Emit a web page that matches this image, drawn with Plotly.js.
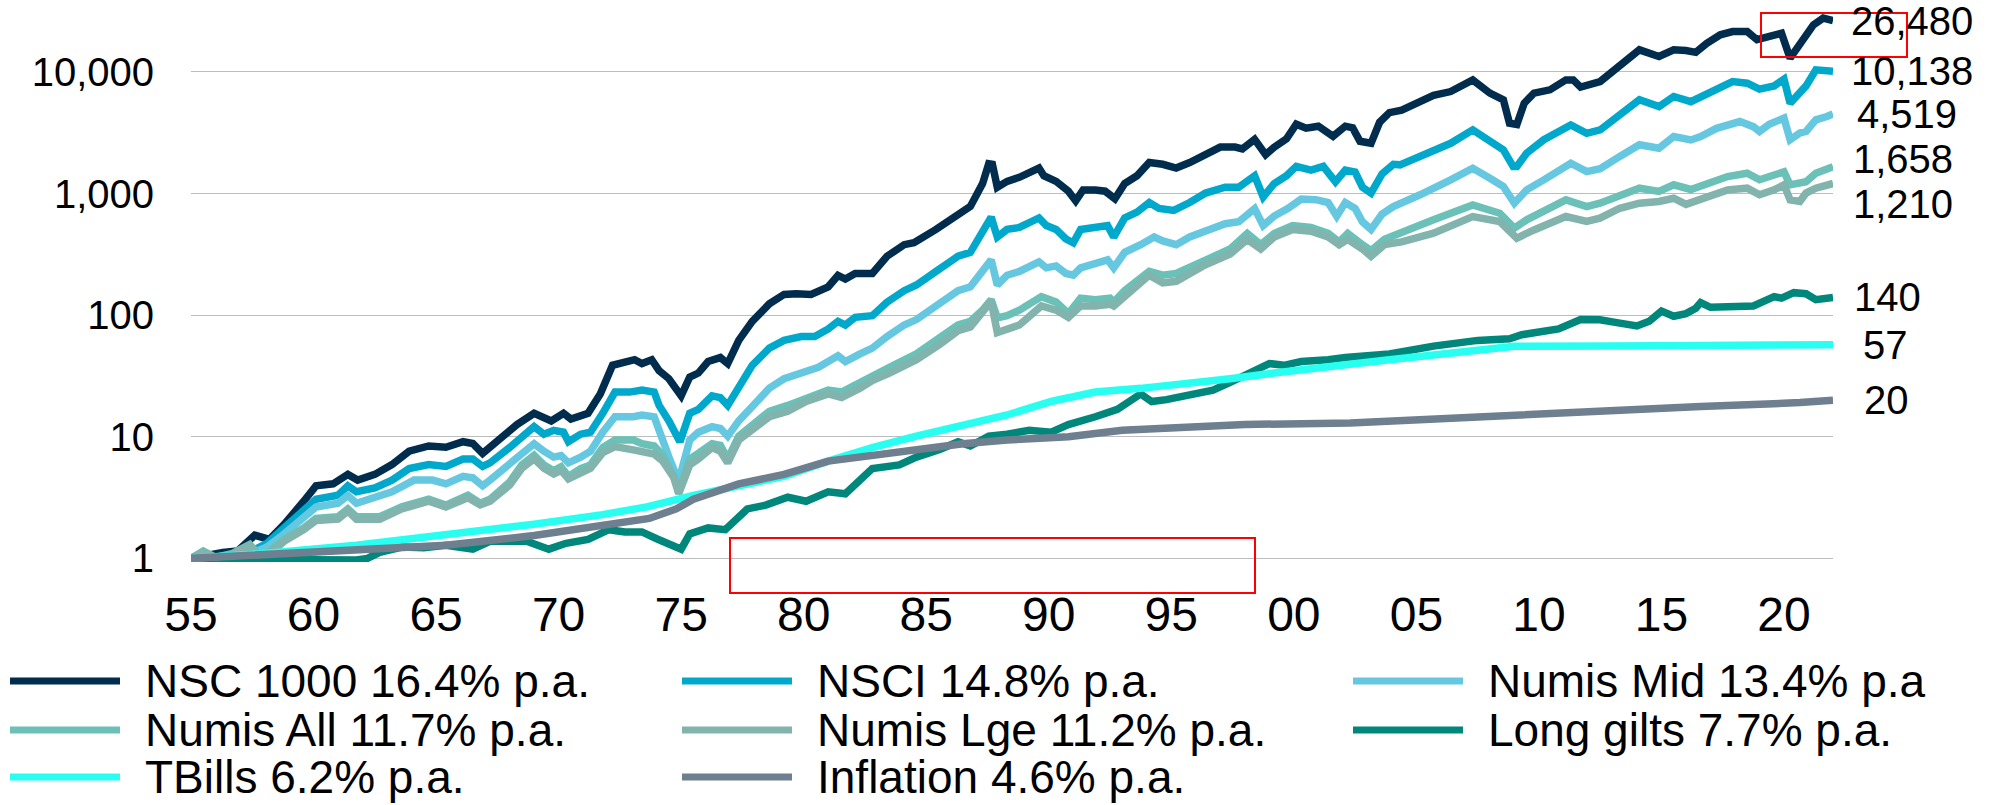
<!DOCTYPE html>
<html>
<head>
<meta charset="utf-8">
<script src="https://cdn.plot.ly/plotly-3.0.1.min.js"></script>
<style>
html,body{margin:0;padding:0;background:#ffffff;}
#chart{width:1998px;height:805px;}
</style>
</head>
<body>
<div id="chart"></div>
<script>
// ---------------- DATA ----------------
const seriesNames = ["NSC 1000 16.4% p.a.", "NSCI 14.8% p.a.", "Numis Mid 13.4% p.a",
  "Numis All 11.7% p.a.", "Numis Lge 11.2% p.a.", "Long gilts 7.7% p.a.",
  "TBills 6.2% p.a.", "Inflation 4.6% p.a."];

const xTickYears = [1955,1960,1965,1970,1975,1980,1985,1990,1995,2000,2005,2010,2015,2020];
const xTickLabels = ["55","60","65","70","75","80","85","90","95","00","05","10","15","20"];
const yTickValues = [1,10,100,1000,10000];
const yTickLabels = ["1","10","100","1,000","10,000"];

const nsc1000Years = [1955.0,1955.5,1956.3,1956.9,1957.6,1958.2,1958.8,1959.6,1960.1,1960.8,1961.4,1961.8,1962.5,1963.2,1963.9,1964.7,1965.4,1966.1,1966.5,1966.9,1967.2,1967.9,1968.3,1969.0,1969.7,1970.2,1970.5,1971.2,1971.7,1972.2,1972.7,1973.1,1973.4,1973.8,1974.1,1974.5,1975.0,1975.35,1975.7,1976.1,1976.6,1976.9,1977.35,1977.9,1978.6,1979.2,1979.7,1980.3,1981.0,1981.4,1981.7,1982.1,1982.8,1983.4,1984.1,1984.5,1985.4,1986.1,1986.8,1987.3,1987.55,1987.7,1987.9,1988.3,1988.8,1989.6,1989.8,1990.3,1990.8,1991.1,1991.4,1991.9,1992.3,1992.7,1993.1,1993.6,1994.1,1994.65,1995.2,1995.75,1996.5,1997.0,1997.6,1997.9,1998.4,1998.85,1999.2,1999.7,2000.1,2000.5,2001.0,2001.6,2002.1,2002.4,2002.7,2003.15,2003.5,2003.9,2004.4,2005.15,2005.7,2006.4,2007.3,2008.0,2008.55,2008.8,2009.1,2009.4,2009.8,2010.45,2011.1,2011.4,2011.7,2012.5,2013.3,2014.1,2014.9,2015.5,2016.0,2016.4,2016.85,2017.4,2017.9,2018.5,2018.9,2019.4,2019.9,2020.25,2020.65,2020.9,2021.2,2021.6,2022.0];
const nsc1000Values = [1.0,1.05,1.12,1.15,1.55,1.43,1.9,2.95,3.95,4.1,4.9,4.4,4.9,5.9,7.6,8.4,8.2,9.1,8.8,7.3,8.2,10.5,12.6,15.6,13.5,15.6,14.0,15.6,22.5,38.7,41.7,43,40,43,35,30,21.7,31,33.4,41.6,44.8,40,62,89,124,148,150,148,171,212,198,220,220,305,380,395,507,630,784,1210,1760,1740,1127,1260,1360,1620,1400,1260,1046,870,1070,1070,1046,907,1210,1400,1800,1740,1620,1800,2160,2410,2410,2330,2790,2090,2410,2820,3720,3450,3580,2960,3580,3470,2690,2590,3860,4630,4850,5720,6410,6900,8600,6690,5890,3790,3700,5530,6690,7130,8600,8600,7500,8340,11090,15200,13400,15200,15000,14500,17200,20200,21500,21500,18400,19700,20800,12970,17200,19700,24400,27700,26480];

const nsciYears = [1955.0,1956.0,1957.0,1957.5,1958.1,1958.8,1959.6,1960.1,1961.0,1961.4,1961.75,1962.5,1963.2,1963.9,1964.7,1965.4,1966.1,1966.5,1966.9,1967.2,1968.0,1968.6,1969.0,1969.4,1969.8,1970.2,1970.4,1970.9,1971.3,1971.8,1972.3,1972.9,1973.4,1973.9,1974.1,1974.5,1974.95,1975.35,1975.7,1976.26,1976.6,1976.9,1977.35,1977.9,1978.6,1979.2,1979.9,1980.45,1981.0,1981.4,1981.7,1982.1,1982.8,1983.4,1984.1,1984.6,1985.4,1986.3,1986.8,1987.3,1987.65,1987.9,1988.3,1988.8,1989.6,1989.9,1990.3,1990.7,1991.0,1991.3,1991.9,1992.4,1992.65,1993.1,1993.6,1994.1,1994.5,1995.1,1995.75,1996.4,1997.2,1997.75,1998.4,1998.75,1999.2,1999.7,2000.1,2000.7,2001.2,2001.7,2002.1,2002.5,2002.8,2003.15,2003.6,2004.06,2004.33,2005.15,2006.4,2007.3,2008.0,2008.55,2008.95,2009.1,2009.5,2010.2,2011.3,2011.95,2012.5,2013.3,2014.1,2014.9,2015.5,2016.2,2016.6,2017.25,2017.9,2018.5,2019.0,2019.6,2020.0,2020.25,2020.65,2020.9,2021.3,2021.75,2022.0];
const nsciValues = [1.0,1.02,1.05,1.15,1.33,1.78,2.46,3.06,3.3,3.95,3.53,3.8,4.4,5.47,5.9,5.7,6.55,6.55,5.7,6.1,8.15,10.1,12.1,10.5,11.3,10.9,9.1,10.5,10.9,15.6,23.3,23.3,24.2,23.3,18.1,13.5,9.1,15.6,16.8,21.7,21,18.1,25.1,38.7,53.6,62,66.7,66.7,77,89,83,96,99,128,159,177,229,305,328,507,640,439,507,526,630,545,507,423,394,507,526,545,439,630,703,843,755,727,843,1010,1127,1127,1400,938,1210,1400,1675,1560,1675,1250,1560,1500,1127,1010,1450,1740,1722,2020,2590,3340,2680,2290,1667,1667,2150,2770,3670,3130,3340,4440,5900,5200,6280,5700,6280,7350,8340,8090,7230,7680,8720,5530,6680,7680,10400,10100,10138];

const numisMidYears = [1955.0,1956.0,1957.0,1957.5,1958.1,1958.8,1959.6,1960.1,1961.0,1961.4,1961.75,1962.5,1963.2,1964.1,1964.85,1965.4,1966.1,1966.5,1966.9,1967.2,1968.0,1968.6,1969.0,1969.4,1969.8,1970.1,1970.4,1970.9,1971.3,1971.8,1972.3,1973.05,1973.4,1973.9,1974.1,1974.5,1974.9,1975.35,1975.7,1976.26,1976.6,1976.9,1977.35,1978.1,1978.6,1979.2,1979.9,1980.6,1981.4,1981.7,1982.3,1982.8,1983.4,1984.1,1984.6,1985.4,1986.3,1986.8,1987.3,1987.65,1987.9,1988.3,1988.8,1989.6,1989.9,1990.3,1990.7,1991.0,1991.3,1991.9,1992.4,1992.65,1993.1,1993.75,1994.3,1994.65,1995.2,1995.75,1996.5,1997.2,1997.75,1998.4,1998.75,1999.2,1999.75,2000.3,2000.9,2001.4,2001.75,2002.1,2002.5,2002.8,2003.15,2003.6,2004.06,2004.33,2005.15,2006.4,2007.3,2008.0,2008.55,2009.0,2009.5,2010.2,2011.3,2011.95,2012.5,2013.3,2014.1,2014.9,2015.5,2016.2,2016.6,2017.25,2018.2,2018.75,2019.0,2019.4,2020.0,2020.25,2020.65,2020.9,2021.3,2021.75,2022.0];
const numisMidValues = [1.0,1.0,1.03,1.1,1.24,1.59,2.21,2.64,2.84,3.29,2.84,3.18,3.53,4.4,4.4,4.1,4.72,4.6,3.95,4.4,5.87,7.6,8.77,7.6,6.8,7.0,6.1,6.8,7.6,10.9,14.6,14.6,15.1,14.6,10.9,6.8,4.3,9.4,10.9,12.1,11.7,10.1,13.5,19.5,25.1,30,33.4,37.3,46.3,41.6,48,53.6,66.7,83,92,119,159,171,229,285,177,213,229,274,245,254,220,213,245,264,285,245,329,380,439,408,380,439,507,565,586,753,545,654,753,900,890,842,650,842,753,586,507,679,782,834,977,1295,1615,1337,1143,834,1072,1295,1775,1515,1600,2020,2520,2360,2940,2760,2940,3440,3910,3550,3240,3720,4170,2770,3150,3240,4040,4300,4519];

const numisAllYears = [1955.0,1955.5,1956.0,1956.7,1957.4,1957.8,1958.1,1958.8,1959.6,1960.1,1961.0,1961.4,1961.75,1962.7,1963.6,1964.7,1965.4,1966.3,1966.8,1967.2,1968.0,1968.5,1969.0,1969.4,1969.8,1970.1,1970.4,1970.9,1971.3,1971.8,1972.3,1973.05,1973.4,1973.9,1974.25,1974.7,1974.9,1975.35,1975.7,1976.26,1976.6,1976.9,1977.35,1978.1,1978.6,1979.35,1980.1,1981.0,1981.55,1982.3,1982.8,1983.5,1984.6,1985.55,1986.3,1986.8,1987.3,1987.65,1987.9,1988.3,1988.8,1989.7,1990.3,1990.8,1991.3,1991.9,1992.5,1992.65,1993.1,1994.1,1994.65,1995.2,1996.3,1997.4,1998.1,1998.65,1999.2,1999.95,2000.7,2001.4,2001.85,2002.2,2002.8,2003.15,2003.7,2004.4,2005.7,2007.3,2008.4,2009.0,2009.5,2011.1,2011.95,2012.49,2013.3,2014.1,2014.9,2015.5,2016.2,2016.85,2017.7,2018.5,2019.0,2019.6,2020.0,2020.25,2020.65,2020.9,2021.3,2022.0];
const numisAllValues = [1.0,1.15,1.02,1.1,1.3,1.05,1.1,1.43,1.78,2.13,2.2,2.55,2.2,2.2,2.65,3.06,2.74,3.3,2.84,3.06,4.24,5.87,7.05,5.87,5.26,5.66,4.72,5.46,5.87,8.15,9.4,9.4,8.77,8.4,7.05,4.72,3.5,6.55,7.3,8.77,8.5,6.55,10.1,13.5,16.2,18.1,21,24.2,23.3,28,32.3,37.3,48,64,83,89,110,134,95,99,110,142,128,103,138,134,138,128,159,229,213,220,282,350,470,380,470,545,526,470,400,470,380,340,420,472,608,807,689,519,608,887,782,834,977,1107,1040,1180,1080,1210,1380,1470,1300,1420,1510,1180,1250,1250,1470,1658];

const numisLgeYears = [1955.0,1955.5,1956.0,1956.7,1957.4,1957.8,1958.1,1958.8,1959.6,1960.1,1961.0,1961.4,1961.75,1962.7,1963.6,1964.7,1965.4,1966.3,1966.8,1967.2,1968.0,1968.5,1969.0,1969.4,1969.8,1970.1,1970.4,1970.9,1971.3,1971.8,1972.3,1973.05,1973.4,1973.9,1974.25,1974.7,1974.9,1975.35,1975.7,1976.26,1976.6,1976.9,1977.35,1978.1,1978.6,1979.35,1980.1,1981.0,1981.55,1982.3,1982.8,1983.5,1984.6,1985.55,1986.3,1986.8,1987.3,1987.65,1987.9,1988.3,1988.8,1989.7,1990.3,1990.8,1991.3,1991.9,1992.5,1992.65,1993.1,1994.1,1994.65,1995.2,1996.3,1997.4,1998.1,1998.65,1999.2,1999.95,2000.7,2001.4,2001.85,2002.2,2002.8,2003.15,2003.7,2004.4,2005.7,2007.3,2008.4,2009.1,2009.8,2011.1,2011.95,2012.49,2013.3,2014.1,2014.9,2015.5,2016.0,2016.85,2017.7,2018.5,2019.0,2019.6,2020.0,2020.25,2020.65,2020.9,2021.3,2022.0];
const numisLgeValues = [1.0,1.12,1.0,1.08,1.28,1.0,1.05,1.38,1.72,2.05,2.1,2.45,2.1,2.1,2.55,2.95,2.65,3.15,2.75,2.95,4.0,5.5,6.6,5.5,4.95,5.3,4.5,5.1,5.5,7.4,8.3,7.8,7.6,7.2,6.3,4.6,3.4,5.87,6.55,8.15,7.6,6.1,9.4,12.1,14.6,16.2,19.5,22.5,21,25,29,33.4,43,57.5,74.5,80,105,130,72,77,83,119,110,96,119,119,123,119,142,213,184,190,254,318,420,350,439,507,490,439,380,420,350,305,380,400,472,647,589,430,502,647,589,627,757,834,860,915,815,946,1072,1107,977,1072,1180,887,860,1010,1107,1210];

const longGiltsYears = [1955.0,1956.0,1957.0,1958.0,1959.0,1960.0,1961.0,1961.75,1962.2,1962.7,1963.6,1964.5,1965.4,1966.5,1967.2,1968.7,1969.6,1970.3,1971.2,1972.05,1972.7,1973.4,1974.0,1974.5,1975.0,1975.35,1976.1,1976.8,1977.7,1978.45,1979.35,1980.1,1981.0,1981.7,1982.1,1982.8,1983.9,1984.6,1985.55,1986.3,1986.8,1987.55,1988.3,1989.2,1990.1,1990.8,1991.9,1992.8,1993.75,1994.2,1994.8,1995.9,1996.7,1997.4,1998.5,1999.0,1999.6,2000.3,2001.4,2002.1,2003.9,2005.7,2007.5,2008.8,2009.3,2010.8,2011.7,2012.49,2013.3,2014.0,2014.5,2015.0,2015.5,2016.0,2016.4,2016.6,2017.0,2017.9,2018.75,2019.6,2019.9,2020.4,2020.9,2021.3,2021.6,2022.0];
const longGiltsValues = [1.0,0.98,0.97,0.98,0.97,0.97,0.98,0.97,1.0,1.12,1.24,1.22,1.28,1.19,1.38,1.38,1.19,1.33,1.43,1.72,1.65,1.65,1.45,1.33,1.19,1.59,1.78,1.72,2.55,2.74,3.18,2.95,3.53,3.4,4.1,5.47,5.87,6.8,7.85,9.1,8.4,10.1,10.5,11.3,10.9,12.6,14.6,16.8,22.5,19.5,20.2,22.5,24.2,28,36,40,38.7,41.6,43,44.8,48,55.6,62,64,69,77,92,91.5,86,81.6,89,108,98,103,114,127,116,116,119,142,138,153,150,134,138,140];

const tbillsYears = [1955.0,1958.1,1961.75,1965.4,1969.0,1971.8,1973.6,1975.5,1977.35,1979.2,1981.0,1982.8,1984.6,1986.5,1988.3,1990.1,1991.9,1993.75,1995.6,1997.4,1999.2,2001.0,2003.9,2007.5,2009.0,2013.0,2017.0,2020.0,2022.0];
const tbillsValues = [1.0,1.1,1.28,1.54,1.91,2.29,2.65,3.3,3.95,4.72,6.3,8.15,10.1,12.6,15.1,19.5,23.3,25,27,30,33.4,37.3,43,51.5,55.6,55.8,56.2,56.8,57];

const inflationYears = [1955.0,1958.1,1961.75,1965.4,1969.0,1971.8,1973.7,1974.8,1975.5,1977.35,1979.2,1981.0,1982.8,1984.6,1986.5,1988.3,1990.8,1993.0,1995.6,1998.0,2002.3,2005.7,2008.4,2010.5,2012.49,2016.6,2020.65,2022.0];
const inflationValues = [1.0,1.07,1.15,1.28,1.54,1.84,2.13,2.55,3.06,4.1,4.9,6.3,7.05,7.85,8.77,9.4,10.0,11.3,12.1,12.6,13.0,14.0,15.1,15.8,16.6,17.7,19.1,20];

// ---------------- STYLE ----------------
const seriesColors = ["#002D4D","#00A8CC","#66C8E0","#6BC0B7","#82B3AD","#00877B","#28FFF0","#6E7F8F"];
const FONT = "'Liberation Sans', Arial, Helvetica, sans-serif";
const W = 1998, H = 805;
const M = {l:191, r:165, t:6, b:243};
const plotW = W - M.l - M.r, plotH = H - M.t - M.b;
const px2x = px => (px - M.l) / plotW;
const px2y = py => (H - M.b - py) / plotH;

const allYears = [nsc1000Years, nsciYears, numisMidYears, numisAllYears, numisLgeYears, longGiltsYears, tbillsYears, inflationYears];
const allValues = [nsc1000Values, nsciValues, numisMidValues, numisAllValues, numisLgeValues, longGiltsValues, tbillsValues, inflationValues];

const traces = allYears.map((xs, i) => ({
  type: 'scatter', mode: 'lines', x: xs, y: allValues[i], name: seriesNames[i],
  line: {color: seriesColors[i], width: 7.5}, hoverinfo: 'skip', showlegend: false
}));

const annotations = [];
const shapes = [];

// end-value labels (placement nudges are styling only)
const endLabelDX = [16, 16, 22, 18, 18, 19, 28, 29];
const endLabelDY = [0, 0, 0, 8, -21, 0, 0, 0];
allValues.forEach((vals, i) => {
  const last = vals[vals.length - 1];
  const xs = allYears[i];
  annotations.push({
    x: xs[xs.length - 1], y: Math.log10(last), xref: 'x', yref: 'y',
    text: last.toLocaleString('en-US'), showarrow: false,
    xanchor: 'left', yanchor: 'middle', xshift: endLabelDX[i], yshift: endLabelDY[i],
    font: {family: FONT, size: 40, color: '#000000'}
  });
});

// manual legend (3 columns x 3 rows)
const legRowY = [681, 730, 777];
const legLineX = [[10, 120], [682, 792], [1353, 1463]];
const legTextX = [143, 815, 1486];
seriesNames.forEach((nm, i) => {
  const r = Math.floor(i / 3), c = i % 3;
  shapes.push({type: 'line', xref: 'paper', yref: 'paper',
    x0: px2x(legLineX[c][0]), x1: px2x(legLineX[c][1]), y0: px2y(legRowY[r]), y1: px2y(legRowY[r]),
    line: {color: seriesColors[i], width: 7}});
  annotations.push({x: px2x(legTextX[c]), y: px2y(legRowY[r]), xref: 'paper', yref: 'paper',
    text: nm, showarrow: false, xanchor: 'left', yanchor: 'middle',
    font: {family: FONT, size: 46, color: '#000000'}});
});

// red highlight boxes present in the reference
[[1761, 13, 1907, 57], [730, 538, 1255, 593]].forEach(b => {
  shapes.push({type: 'rect', xref: 'paper', yref: 'paper',
    x0: px2x(b[0]), x1: px2x(b[2]), y0: px2y(b[3]), y1: px2y(b[1]),
    line: {color: '#FF0000', width: 2}, fillcolor: 'rgba(0,0,0,0)'});
});

const decadePx = 121.6;
const yBottom = -0.03;
const yTop = yBottom + plotH / decadePx;

const layout = {
  width: W, height: H,
  margin: {l: M.l, r: M.r, t: M.t, b: M.b, pad: 0},
  paper_bgcolor: '#ffffff', plot_bgcolor: '#ffffff',
  showlegend: false,
  font: {family: FONT, color: '#000000'},
  xaxis: {
    type: 'linear', range: [1955, 2022],
    tickmode: 'array', tickvals: xTickYears, ticktext: xTickLabels,
    showgrid: false, zeroline: false, showline: false, ticks: '',
    tickfont: {family: FONT, size: 48, color: '#000000'},
    ticklabelstandoff: 20
  },
  yaxis: {
    type: 'log', range: [yBottom, yTop],
    tickmode: 'array', tickvals: yTickValues, ticktext: yTickLabels,
    showgrid: true, gridcolor: '#BDBDBD', gridwidth: 1.3,
    zeroline: false, showline: false, ticks: '',
    tickfont: {family: FONT, size: 40, color: '#000000'},
    ticklabelstandoff: 36
  },
  annotations: annotations,
  shapes: shapes
};

Plotly.newPlot('chart', traces, layout, {displayModeBar: false, responsive: false});
</script>
</body>
</html>
